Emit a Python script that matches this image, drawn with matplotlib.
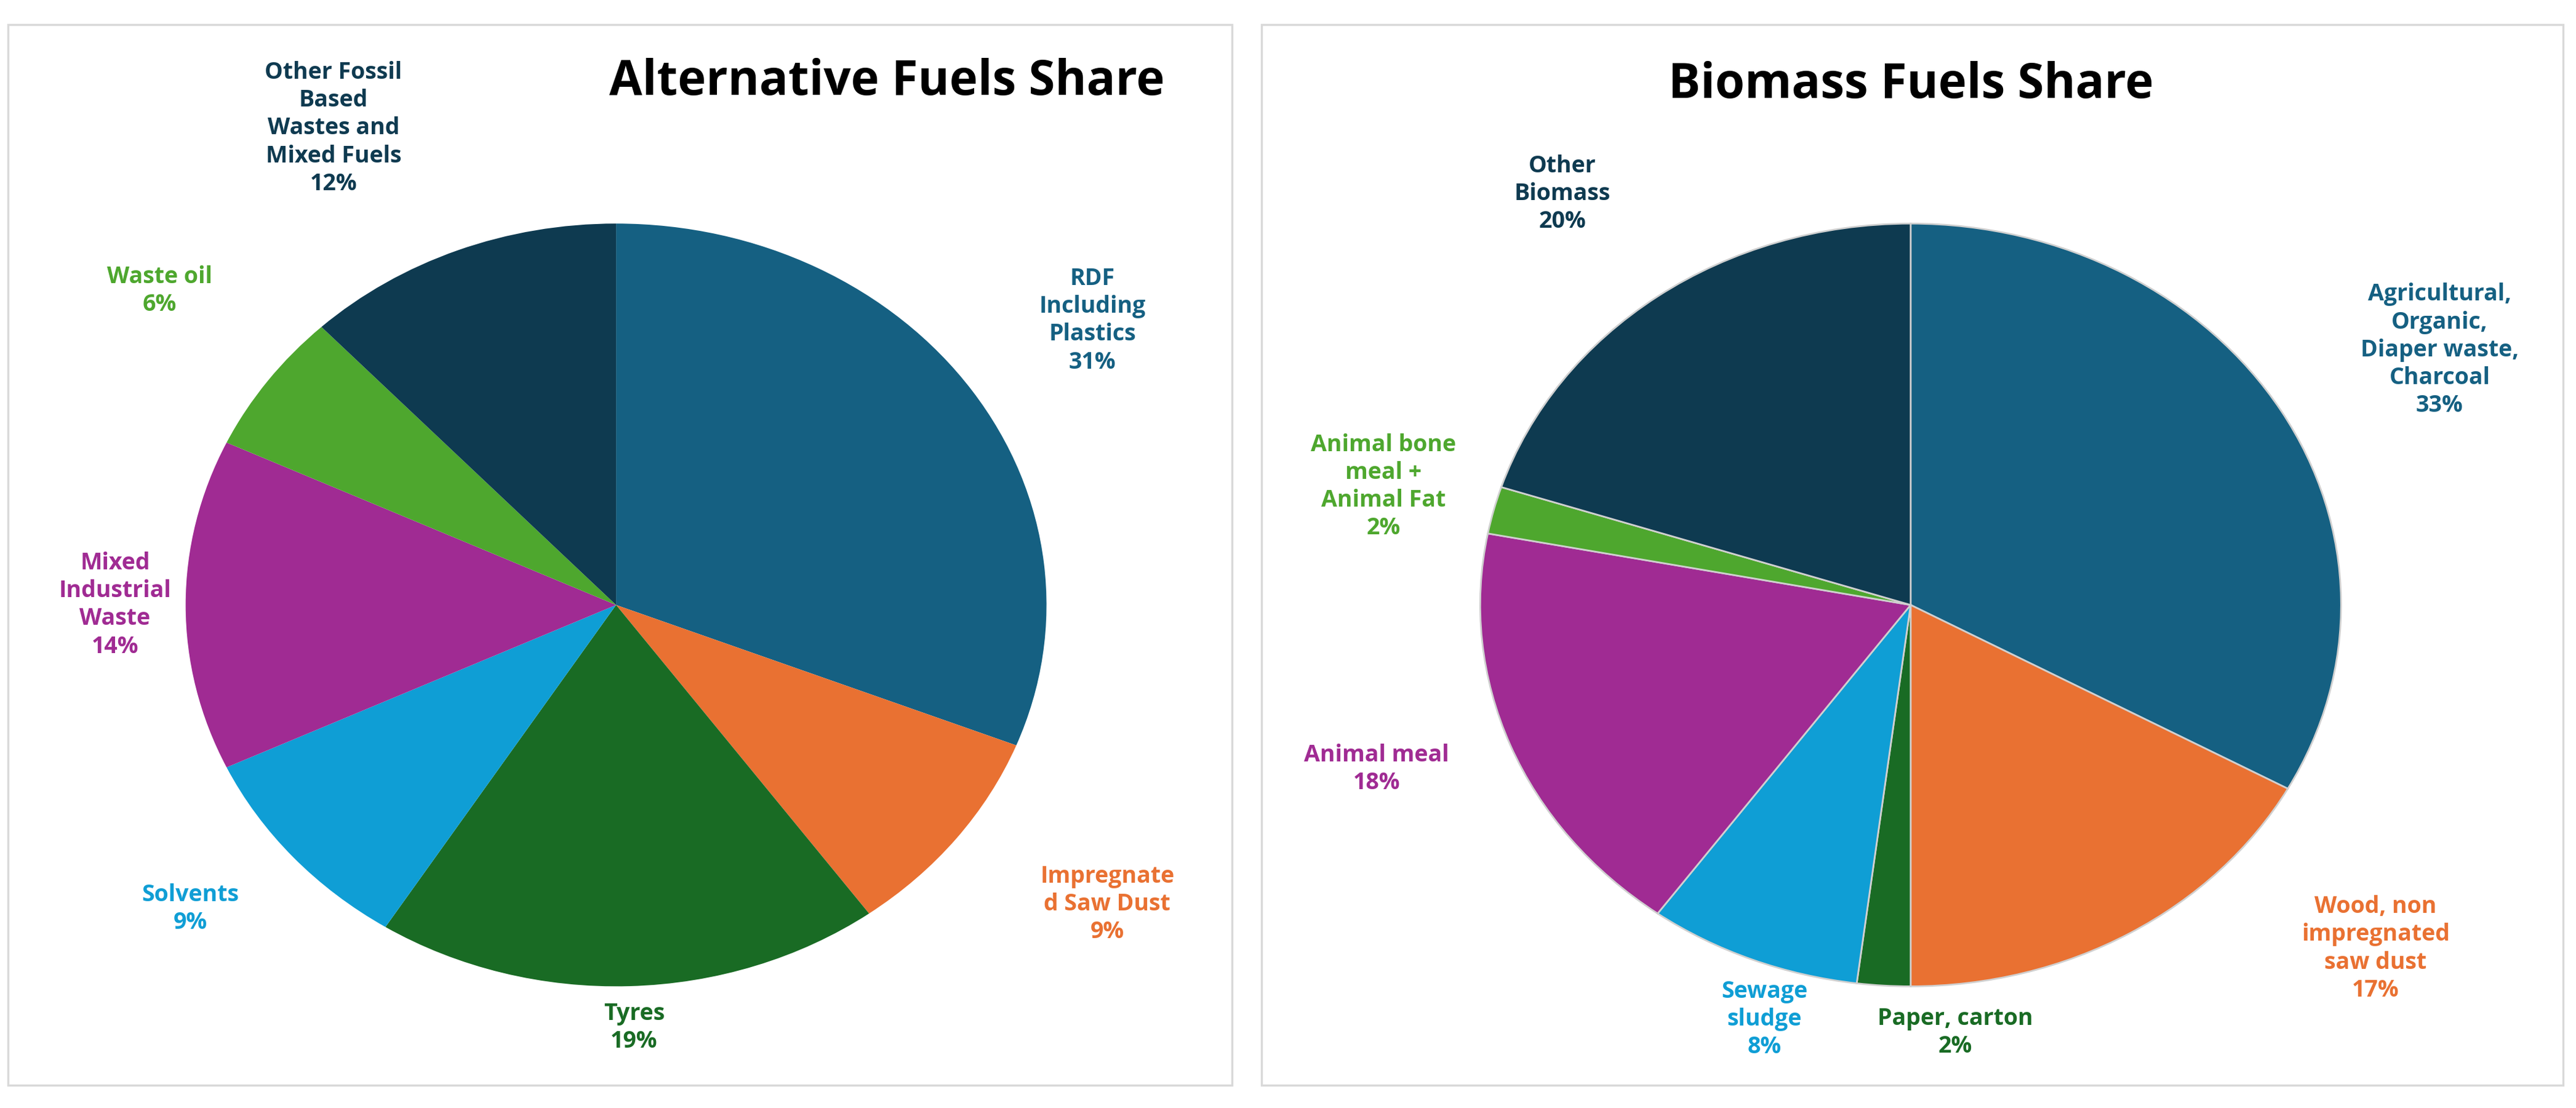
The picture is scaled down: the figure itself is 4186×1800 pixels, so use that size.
import matplotlib
matplotlib.use("Agg")
import matplotlib.pyplot as plt
from matplotlib.patches import Rectangle

# ── data ─────────────────────────────────────────────────────────────────────
alt_labels = ["RDF\nIncluding\nPlastics", "Impregnate\nd Saw Dust", "Tyres", "Solvents",
              "Mixed\nIndustrial\nWaste", "Waste oil", "Other Fossil\nBased\nWastes and\nMixed Fuels"]
alt_values = [31, 9, 19, 9, 14, 6, 12]

bio_labels = ["Agricultural,\nOrganic,\nDiaper waste,\nCharcoal", "Wood, non\nimpregnated\nsaw dust",
              "Paper, carton", "Sewage\nsludge", "Animal meal", "Animal bone\nmeal +\nAnimal Fat",
              "Other\nBiomass"]
bio_values = [33, 17, 2, 8, 18, 2, 20]

colors = ["#156082", "#E97132", "#196B24", "#0F9ED5", "#A02B93", "#4EA72E", "#0E3A50"]

# label anchor positions in reference pixels (1568 x 674 preview grid)
alt_label_pos = [(665, 195), (674, 550), (386, 625), (116, 553), (70, 368), (97, 177), (203, 78)]
bio_label_pos = [(1485, 213), (1446, 577), (1190, 628), (1074, 620), (838, 468), (842, 296), (951, 118)]

W, H = 1568, 674
FONT = "Open Sans"


def fx(x):
    return x / W


def fy(y):
    return 1 - y / H


fig = plt.figure(figsize=(41.86, 18), dpi=100)
fig.patch.set_facecolor("white")

# panel frames
for x0, x1 in [(5, 750), (768, 1560)]:
    fig.patches.append(Rectangle((fx(x0), fy(660)), fx(x1) - fx(x0), fy(15) - fy(660),
                                 transform=fig.transFigure, fill=False,
                                 edgecolor="#D9D9D9", lw=2.5))


def draw_pie(cx, cy, rx, ry, values, labels, pos, title, tpos, edge):
    ax = fig.add_axes([fx(cx - rx), fy(cy + ry), 2 * rx / W, 2 * ry / H])
    ax.pie(values, colors=colors, startangle=90, counterclock=False, radius=1,
           wedgeprops=dict(edgecolor=edge, linewidth=2 if edge != "none" else 0))
    ax.set_aspect("auto")
    ax.set_xlim(-1, 1)
    ax.set_ylim(-1, 1)
    ax.set_axis_off()
    for lab, v, (x, y), c in zip(labels, values, pos, colors):
        fig.text(fx(x), fy(y), f"{lab}\n{v}%", ha="center", va="center", color=c,
                 fontsize=27, fontweight="bold", family=FONT, linespacing=1.25, zorder=5)
    fig.text(fx(tpos[0]), fy(tpos[1]), title, ha="center", va="center", color="black",
             fontsize=56, fontweight="bold", family=FONT)


draw_pie(375, 368, 262, 232, alt_values, alt_labels, alt_label_pos,
         "Alternative Fuels Share", (540, 50), "none")
draw_pie(1163, 368, 262, 232, bio_values, bio_labels, bio_label_pos,
         "Biomass Fuels Share", (1163, 52), "#D0D0D0")

fig.savefig("out.png", dpi=100)
